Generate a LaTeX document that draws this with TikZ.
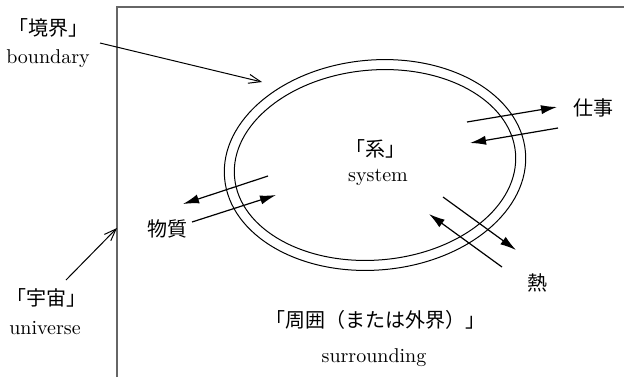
\documentclass[tikz,border=0pt]{standalone}
\usepackage{fontspec}
\newfontfamily\jp{Noto Sans CJK JP}
\usetikzlibrary{arrows.meta}
\tikzset{
  lbl/.style={inner sep=0pt, anchor=base, font=\fontsize{10}{12}\selectfont},
  jlbl/.style={inner sep=0pt, anchor=base, font=\fontsize{10}{12}\selectfont\jp},
  openarr/.style={line width=0.5pt, -{Straight Barb[length=6pt,width=4.5pt]}},
  fillarr/.style={line width=0.6pt, -{Latex[length=8pt,width=4.6pt]}},
  bline/.style={line width=0.5pt},
}
\begin{document}
\begin{tikzpicture}[x=0.5pt,y=-0.5pt]
\useasboundingbox (0,0) rectangle (624,377);
% universe frame
\draw[line width=0.9pt, draw=black!60] (117,377) -- (117,7) -- (624,7);
% system boundary (double ellipse)
\draw[bline, rotate around={5:(375,165)}] (375,165) ellipse [x radius=151, y radius=105];
\draw[bline, rotate around={5:(375,165)}] (375,165) ellipse [x radius=141, y radius=95];
% labels
\node[jlbl] (bndj) at (48,35) {「境界」};
\node[lbl] (bnde) at (48,63) {boundary};
\node[jlbl] (univj) at (46,305) {「宇宙」};
\node[lbl] (unive) at (45,334) {universe};
\node[jlbl] (sysj) at (375,156) {「系」};
\node[lbl] (syse) at (378,181) {system};
\node[jlbl] (surj) at (375,327) {「周囲（または外界）」};
\node[lbl] (sure) at (374,362) {surrounding};
\node[jlbl] (matter) at (167,236) {物質};
\node[jlbl] (work) at (593,115) {仕事};
\node[jlbl] (heat) at (537,290) {熱};
% arrow end points
\coordinate (b1) at (100,43);  \coordinate (b2) at (262,82);
\coordinate (u1) at (66,280);  \coordinate (u2) at (117,228);
\coordinate (m1) at (268,176); \coordinate (m2) at (183,204);
\coordinate (m3) at (192,222); \coordinate (m4) at (276,195);
\coordinate (w1) at (467,122); \coordinate (w2) at (557,107);
\coordinate (w3) at (558,128); \coordinate (w4) at (470,143);
\coordinate (h1) at (443,197); \coordinate (h2) at (516,250);
\coordinate (h3) at (502,267); \coordinate (h4) at (429,214);
% pointer arrows
\draw[openarr] (b1) -- (b2);
\draw[openarr] (u1) -- (u2);
% exchange arrows
\draw[fillarr] (m1) -- (m2);
\draw[fillarr] (m3) -- (m4);
\draw[fillarr] (w1) -- (w2);
\draw[fillarr] (w3) -- (w4);
\draw[fillarr] (h1) -- (h2);
\draw[fillarr] (h3) -- (h4);
\end{tikzpicture}
\end{document}
